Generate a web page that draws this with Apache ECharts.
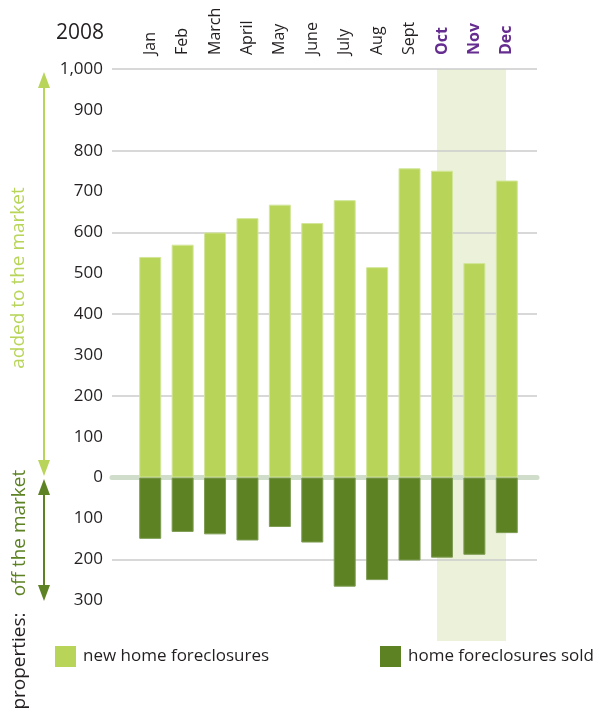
<!DOCTYPE html>
<html>
<head>
<meta charset="utf-8">
<script src="https://cdn.jsdelivr.net/npm/echarts@6/dist/echarts.min.js"></script>
<style>
html,body{margin:0;padding:0;background:#fff;}
#chart{width:596px;height:711px;}
</style>
</head>
<body>
<div id="chart"></div>
<script>
var months = ['Jan','Feb','March','April','May','June','July','Aug','Sept','Oct','Nov','Dec'];
var highlightMonths = ['Oct','Nov','Dec'];
var newForeclosures = [540, 570, 600, 635, 668, 623, 679, 515, 757, 751, 525, 727];
var soldForeclosures = [150, 133, 139, 154, 121, 159, 267, 251, 203, 196, 189, 136];
var yearLabel = '2008';
var seriesNames = ['new home foreclosures', 'home foreclosures sold'];
var Y_MIN = -400, Y_MAX = 1000;

var FONT = "'Open Sans', sans-serif";
var LIGHT = '#b8d55a';
var DARK = '#5d8224';
var TEXT = '#231f20';
var PURPLE = '#662d91';
var BAND = '#ecf2d9';

var chart = echarts.init(document.getElementById('chart'));

var option = {
  animation: false,
  textStyle: { fontFamily: FONT },
  grid: [
    { left: 134, right: 73, top: 69, bottom: 70 },
    { left: 112, right: 59, top: 69, bottom: 70 },
    { left: 437, right: 90, top: 69, bottom: 70 }
  ],
  xAxis: [
    {
      type: 'category', gridIndex: 0, data: months, position: 'top',
      axisLine: { show: false }, axisTick: { show: false },
      axisLabel: {
        rotate: 90, margin: 14, fontSize: 16, fontFamily: FONT, color: TEXT,
        formatter: function (v) { return highlightMonths.indexOf(v) >= 0 ? '{h|' + v + '}' : v; },
        rich: { h: { color: PURPLE, fontWeight: 'bold', fontSize: 16, fontFamily: FONT } }
      }
    },
    {
      type: 'value', gridIndex: 1, min: 0, max: 1,
      axisLabel: { show: false }, axisTick: { show: false }, splitLine: { show: false },
      axisLine: { show: true, onZero: true, lineStyle: { color: '#d0ddcb', width: 5 } },
      z: 1
    },
    {
      type: 'category', gridIndex: 2, data: highlightMonths, show: false
    }
  ],
  yAxis: [
    { type: 'value', gridIndex: 0, min: Y_MIN, max: Y_MAX, show: false },
    {
      type: 'value', gridIndex: 1, min: Y_MIN, max: Y_MAX, interval: 200, z: 1, position: 'left',
      axisLabel: { show: false }, axisLine: { show: false }, axisTick: { show: false },
      splitLine: { show: true, showMinLine: false, showMaxLine: true, lineStyle: { color: '#cbcbcb', width: 1.5 } }
    },
    {
      type: 'value', gridIndex: 1, min: Y_MIN, max: Y_MAX, interval: 100, position: 'left',
      axisLine: { show: false }, axisTick: { show: false }, splitLine: { show: false },
      axisLabel: {
        margin: 9, fontSize: 17, fontFamily: FONT, color: TEXT,
        formatter: function (v) {
          if (v === Y_MIN) return '';
          return Math.abs(v).toLocaleString('en-US');
        }
      }
    },
    { type: 'value', gridIndex: 2, min: Y_MIN, max: Y_MAX, show: false }
  ],
  legend: [
    {
      data: [seriesNames[0]], left: 55, top: 646, padding: 0, itemWidth: 21, itemHeight: 21, itemGap: 0,
      icon: 'rect', textStyle: { fontSize: 17, color: TEXT, fontFamily: FONT, padding: [0, 0, 0, 2] },
      itemStyle: { borderWidth: 0 }, selectedMode: false
    },
    {
      data: [seriesNames[1]], left: 380, top: 646, padding: 0, itemWidth: 21, itemHeight: 21, itemGap: 0,
      icon: 'rect', textStyle: { fontSize: 17, color: TEXT, fontFamily: FONT, padding: [0, 0, 0, 2] },
      itemStyle: { borderWidth: 0 }, selectedMode: false
    }
  ],
  series: [
    {
      name: 'band-up', type: 'bar', xAxisIndex: 2, yAxisIndex: 3, z: 0, silent: true,
      barWidth: '100%', barGap: '-100%', itemStyle: { color: BAND },
      data: highlightMonths.map(function () { return Y_MAX; })
    },
    {
      name: 'band-down', type: 'bar', xAxisIndex: 2, yAxisIndex: 3, z: 0, silent: true,
      barWidth: '100%', barGap: '-100%', itemStyle: { color: BAND },
      data: highlightMonths.map(function () { return Y_MIN; })
    },
    {
      name: seriesNames[0], type: 'bar', xAxisIndex: 0, yAxisIndex: 0, barWidth: 22, barGap: '-100%', z: 3,
      itemStyle: { color: LIGHT, borderColor: '#d3e69a', borderWidth: 1 },
      data: newForeclosures
    },
    {
      name: seriesNames[1], type: 'bar', xAxisIndex: 0, yAxisIndex: 0, barWidth: 22, barGap: '-100%', z: 3,
      itemStyle: { color: DARK, borderColor: '#7e9c52', borderWidth: 1 },
      data: soldForeclosures.map(function (v) { return -v; })
    }
  ],
  graphic: [
    { type: 'text', x: 104, y: 33, style: { text: yearLabel, fontSize: 21, fontFamily: FONT, fill: TEXT, align: 'right', verticalAlign: 'middle' } },
    { type: 'line', shape: { x1: 44, y1: 86, x2: 44, y2: 462 }, style: { stroke: LIGHT, lineWidth: 2 } },
    { type: 'polygon', shape: { points: [[44, 72], [38, 88], [50, 88]] }, style: { fill: LIGHT } },
    { type: 'polygon', shape: { points: [[44, 476], [38, 460], [50, 460]] }, style: { fill: LIGHT } },
    { type: 'line', shape: { x1: 44, y1: 493, x2: 44, y2: 588 }, style: { stroke: DARK, lineWidth: 2 } },
    { type: 'polygon', shape: { points: [[44, 479], [38, 495], [50, 495]] }, style: { fill: DARK } },
    { type: 'polygon', shape: { points: [[44, 601], [38, 585], [50, 585]] }, style: { fill: DARK } },
    { type: 'text', x: 19, y: 278, rotation: Math.PI / 2, style: { text: 'added to the market', fontSize: 19, fontFamily: FONT, fill: LIGHT, align: 'center', verticalAlign: 'middle' } },
    { type: 'text', x: 20, y: 533, rotation: Math.PI / 2, style: { text: 'off the market', fontSize: 19, fontFamily: FONT, fill: DARK, align: 'center', verticalAlign: 'middle' } },
    { type: 'text', x: 20, y: 661, rotation: Math.PI / 2, style: { text: 'properties:', fontSize: 19, fontFamily: FONT, fill: TEXT, align: 'center', verticalAlign: 'middle' } }
  ]
};
chart.setOption(option);
</script>
</body>
</html>
